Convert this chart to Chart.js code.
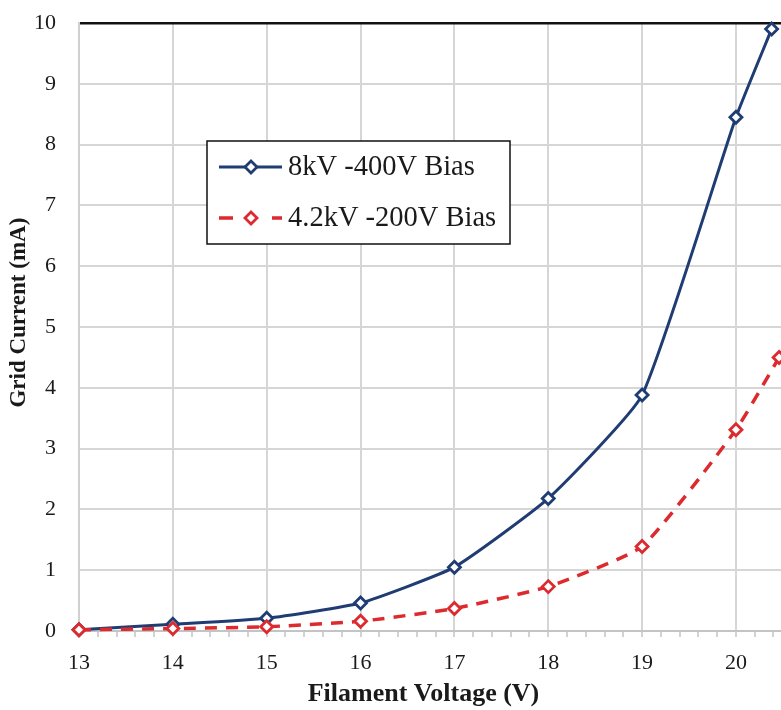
<!DOCTYPE html>
<html>
<head>
<meta charset="utf-8">
<style>
html,body{margin:0;padding:0;background:#fff;}
#wrap{width:781px;height:710px;position:relative;}
</style>
<script src="https://cdn.jsdelivr.net/npm/chart.js@4.4.1/dist/chart.umd.min.js"></script>
</head>
<body>
<div id="wrap"><canvas id="c" width="781" height="710"></canvas></div>
<script>
const seriesNames = ['8kV -400V Bias', '4.2kV -200V Bias'];
const voltageHigh = [13, 14, 15, 16, 17, 18, 19, 20, 20.38];
const currentHigh = [0.02, 0.11, 0.21, 0.46, 1.05, 2.18, 3.88, 8.45, 9.9];
const voltageLow = [13, 14, 15, 16, 17, 18, 19, 20, 20.46];
const currentLow = [0.02, 0.04, 0.07, 0.16, 0.37, 0.73, 1.39, 3.31, 4.5];
const xTickLabels = ['13', '14', '15', '16', '17', '18', '19', '20'];
const yTickLabels = ['0','1','2','3','4','5','6','7','8','9','10'];
const xTitle = 'Filament Voltage (V)';
const yTitle = 'Grid Current (mA)';

const BLUE = '#1f3d73';
const RED = '#dc2a2e';
const SERIF = "'Liberation Serif', 'Times New Roman', serif";

const toPts = (xs, ys) => xs.map((x, i) => ({x: x, y: ys[i]}));

const legendBox = {
  id: 'legendBox',
  afterDraw(chart) {
    const ctx = chart.ctx;
    const a = chart.chartArea;
    const bx = a.left + 128, by = a.top + 118, bw = 303, bh = 103;
    ctx.save();
    ctx.fillStyle = '#fff';
    ctx.fillRect(bx, by, bw, bh);
    ctx.strokeStyle = '#111';
    ctx.lineWidth = 1.5;
    ctx.strokeRect(bx, by, bw, bh);
    chart.data.datasets.forEach((ds, i) => {
      const cy = by + 26 + i * 51;
      const x0 = bx + 12, x1 = bx + 75, mx = x0 + 32;
      ctx.strokeStyle = ds.borderColor;
      ctx.lineWidth = ds.borderWidth;
      ctx.beginPath();
      if (ds.borderDash && ds.borderDash.length) {
        ctx.moveTo(x0, cy); ctx.lineTo(x0 + 14, cy);
        ctx.moveTo(x1 - 10, cy); ctx.lineTo(x1, cy);
      } else {
        ctx.moveTo(x0, cy); ctx.lineTo(x1, cy);
      }
      ctx.stroke();
      const r = ds.pointRadius;
      ctx.beginPath();
      ctx.moveTo(mx, cy - r); ctx.lineTo(mx + r, cy); ctx.lineTo(mx, cy + r); ctx.lineTo(mx - r, cy); ctx.closePath();
      ctx.fillStyle = '#fff';
      ctx.fill();
      ctx.lineWidth = ds.pointBorderWidth;
      ctx.strokeStyle = ds.borderColor;
      ctx.stroke();
      ctx.fillStyle = '#1a1a1a';
      ctx.font = "28.5px " + SERIF;
      ctx.textBaseline = 'middle';
      ctx.textAlign = 'left';
      ctx.fillText(ds.label, x1 + 6, cy + 1);
    });
    ctx.restore();
  }
};

new Chart(document.getElementById('c'), {
  type: 'line',
  data: {
    datasets: [
      {
        label: seriesNames[0],
        data: toPts(voltageHigh, currentHigh),
        borderColor: BLUE,
        borderWidth: 3,
        pointStyle: 'rectRot',
        pointRadius: 6,
        pointBorderWidth: 2.8,
        pointBackgroundColor: '#fff',
        pointBorderColor: BLUE,
        tension: 0.15,
        clip: false,
        order: 1
      },
      {
        label: seriesNames[1],
        data: toPts(voltageLow, currentLow),
        borderColor: RED,
        borderWidth: 3.5,
        borderDash: [12, 9],
        pointStyle: 'rectRot',
        pointRadius: 6,
        pointBorderWidth: 2.8,
        pointBackgroundColor: '#fff',
        pointBorderColor: RED,
        tension: 0.15,
        clip: false,
        order: 0
      }
    ]
  },
  options: {
    responsive: false,
    devicePixelRatio: 1,
    animation: false,
    layout: { autoPadding: false, padding: { top: 23, right: 0, left: 0, bottom: 0 } },
    plugins: { legend: { display: false }, tooltip: { enabled: false } },
    scales: {
      x: {
        type: 'linear',
        min: 13,
        max: 20.48,
        afterBuildTicks(scale) {
          const t = [];
          for (let i = 0; i <= 37; i++) t.push({ value: Math.round((13 + i * 0.2) * 10) / 10 });
          scale.ticks = t;
        },
        afterFit(scale) { scale.height = 79; scale.paddingLeft = 0; scale.paddingRight = 0; },
        ticks: {
          autoSkip: false,
          maxRotation: 0,
          padding: 13,
          color: '#1a1a1a',
          font: { family: SERIF, size: 22 },
          callback(v) {
            const idx = xTickLabels.indexOf(String(v));
            return Number.isInteger(v) && idx >= 0 ? xTickLabels[idx] : '';
          }
        },
        grid: {
          color(ctx) { return ctx.tick && Number.isInteger(ctx.tick.value) && ctx.tick.value > 13 ? '#d6d6d6' : 'rgba(0,0,0,0)'; },
          lineWidth: 2,
          drawTicks: true,
          tickLength: 6,
          tickColor: '#c4c4c4',
          tickWidth: 1.5
        },
        border: { display: true, color: '#c4c4c4', width: 2 },
        title: {
          display: true,
          text: xTitle + '\u00A0\u00A0',
          color: '#1a1a1a',
          font: { family: SERIF, size: 26, weight: 'bold' },
          padding: { top: 0, bottom: 0 }
        }
      },
      y: {
        type: 'linear',
        min: 0,
        max: 10,
        afterBuildTicks(scale) {
          scale.ticks = yTickLabels.map(s => ({ value: Number(s) }));
        },
        afterFit(scale) { scale.width = 79; scale.paddingTop = 0; scale.paddingBottom = 0; },
        ticks: {
          padding: 23,
          color: '#1a1a1a',
          font: { family: SERIF, size: 22 },
          callback(v) { return yTickLabels[v]; }
        },
        grid: {
          color(ctx) { return ctx.tick && ctx.tick.value === 10 ? '#111' : '#d6d6d6'; },
          lineWidth(ctx) { return ctx.tick && ctx.tick.value === 10 ? 2.5 : 2; },
          drawTicks: false
        },
        border: { display: true, color: '#d0d0d0', width: 2 },
        title: {
          display: true,
          text: '\u00A0\u00A0\u00A0\u00A0\u00A0' + yTitle,
          color: '#1a1a1a',
          font: { family: SERIF, size: 23, weight: 'bold' },
          padding: { top: 5, bottom: 0 }
        }
      }
    }
  },
  plugins: [legendBox]
});
</script>
</body>
</html>
